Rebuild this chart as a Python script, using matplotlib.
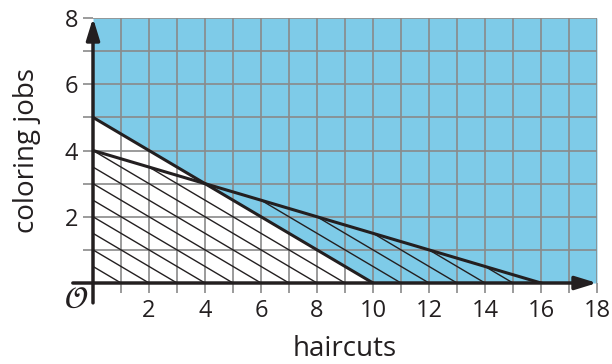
import matplotlib.pyplot as plt
import numpy as np
from matplotlib.patches import Polygon

plt.rcParams['font.family'] = ['Open Sans', 'DejaVu Sans']

# axis ranges
x_max = 18
y_max = 8

# boundary lines, given by their intercepts
blue_x = [0, 10]
blue_y = [5, 0]
hatch_bound_x = [0, 16]
hatch_bound_y = [4, 0]

# hatching lines hit the x-axis at these points
hatch_intercepts = list(range(1, 16))

x_labels = ['2', '4', '6', '8', '10', '12', '14', '16', '18']
y_labels = ['2', '4', '6', '8']

fig = plt.figure(figsize=(6.12, 3.64), dpi=100)
ax = fig.add_axes([93/612, 81/364, 504/612, 265/364])
ax.set_xlim(0, x_max)
ax.set_ylim(0, y_max)

# shaded region above the steeper line
ax.fill_between([blue_x[0], blue_x[1], x_max], [blue_y[0], blue_y[1], 0], y_max,
                color='#7ecbe8', lw=0, zorder=1)

# grid
ax.set_xticks(range(1, x_max + 1))
ax.set_yticks(range(1, y_max + 1))
ax.set_xticklabels([x_labels[(i - 2)//2] if i % 2 == 0 else '' for i in range(1, x_max + 1)])
ax.set_yticklabels([y_labels[(i - 2)//2] if i % 2 == 0 else '' for i in range(1, y_max + 1)])
ax.tick_params(axis='both', length=7.5, width=1.2, color='#8a8a8a', labelsize=17,
               labelcolor='#231f20')
ax.tick_params(axis='x', pad=4)
ax.tick_params(axis='y', pad=3)
ax.grid(True, color='#8a8a8a', lw=1.2, zorder=2)
ax.set_axisbelow(False)
for s in ax.spines.values():
    s.set_visible(False)

# hatching, clipped to the region under the shallower line
clip = Polygon([(hatch_bound_x[0], 0), (hatch_bound_x[0], hatch_bound_y[0]),
                (hatch_bound_x[1], hatch_bound_y[1])], closed=True,
               transform=ax.transData, fc='none', ec='none')
ax.add_patch(clip)
xs = np.array([0, x_max])
for c in hatch_intercepts:
    ln, = ax.plot(xs, (c - xs) / 2, color='#231f20', lw=1.0, zorder=3)
    ln.set_clip_path(clip)

# boundary lines
ax.plot(blue_x, blue_y, color='#231f20', lw=2.2, zorder=4)
ax.plot(hatch_bound_x, hatch_bound_y, color='#231f20', lw=2.2, zorder=4)

# axes with arrows
arrow = dict(arrowstyle='-|>,head_length=1.3,head_width=0.4',
             color='#231f20', lw=2.5, shrinkA=0, shrinkB=0)
ax.annotate('', xy=(x_max, 0), xytext=(-0.72, 0), arrowprops=arrow,
            annotation_clip=False, zorder=5)
ax.annotate('', xy=(0, y_max), xytext=(0, -0.6), arrowprops=arrow,
            annotation_clip=False, zorder=5)

ax.text(-0.6, -0.5, r'$\mathcal{O}$', fontsize=22, ha='center', va='center',
        color='#231f20')

ax.set_xlabel('haircuts', fontsize=20, color='#231f20', labelpad=9)
ax.set_ylabel('coloring jobs', fontsize=20, color='#231f20', labelpad=17)

fig.savefig('out.png', dpi=100)
